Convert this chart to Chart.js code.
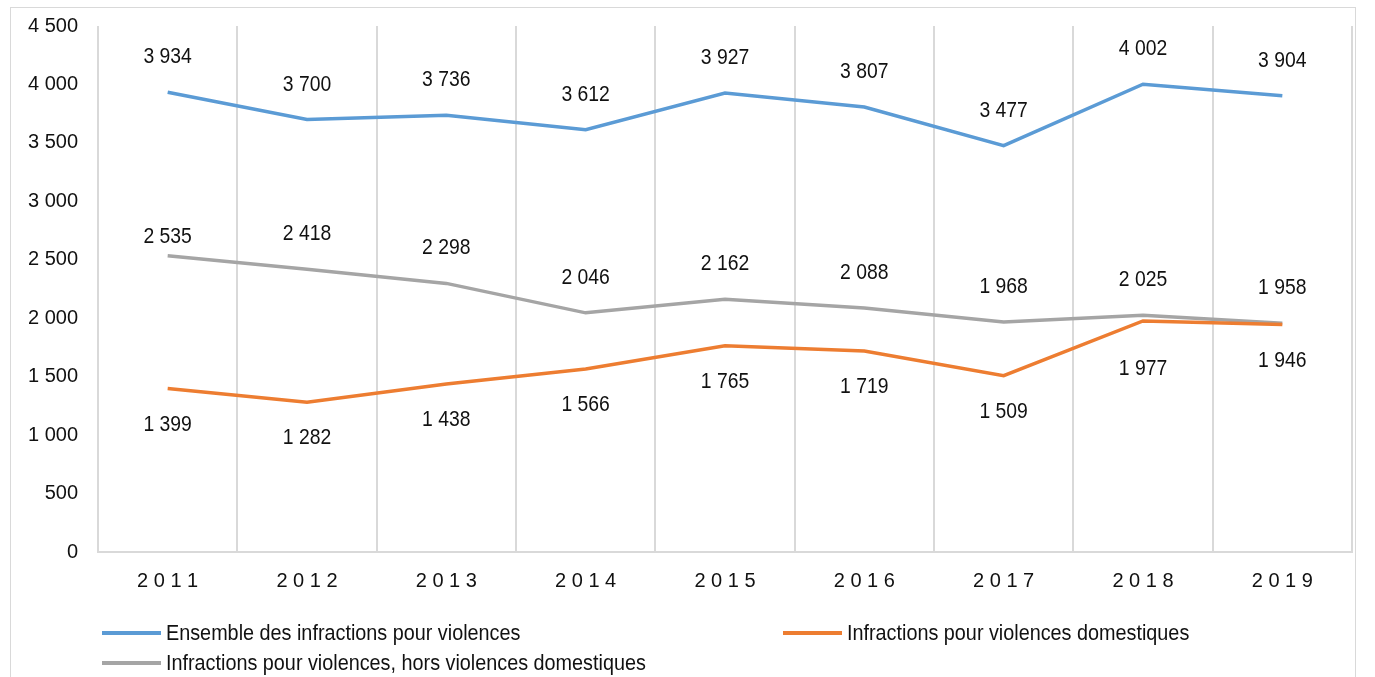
<!DOCTYPE html>
<html>
<head>
<meta charset="utf-8">
<script src="https://cdn.jsdelivr.net/npm/chart.js@4/dist/chart.umd.min.js"></script>
<style>
  html, body { margin: 0; padding: 0; background: #fff; }
  #wrap { width: 1375px; height: 677px; position: relative; }
</style>
</head>
<body>
<div id="wrap"><canvas id="chart" width="1375" height="677"></canvas></div>
<script>
const years = ['2011', '2012', '2013', '2014', '2015', '2016', '2017', '2018', '2019'];
const ensemble = [3934, 3700, 3736, 3612, 3927, 3807, 3477, 4002, 3904];
const domestiques = [1399, 1282, 1438, 1566, 1765, 1719, 1509, 1977, 1946];
const horsDomestiques = [2535, 2418, 2298, 2046, 2162, 2088, 1968, 2025, 1958];

const seriesNames = [
    'Ensemble des infractions pour violences',
    'Infractions pour violences domestiques',
    'Infractions pour violences, hors violences domestiques'
];
const colors = ['#5B9BD5', '#ED7D31', '#A5A5A5'];

const FONT = '"Liberation Sans", Arial, sans-serif';

// thousands with a plain space, like "3 934"
function fmt(v) {
    return String(v).replace(/\B(?=(\d{3})+(?!\d))/g, ' ');
}

// the original text is a bit condensed: draw tall and squeeze horizontally
function narrowText(ctx, txt, x, y, sx) {
    ctx.save();
    ctx.translate(x, y);
    ctx.scale(sx, 1);
    ctx.fillText(txt, 0, 0);
    ctx.restore();
}

// value labels above or below each point
const valueLabels = {
    id: 'valueLabels',
    afterDatasetsDraw(chart) {
        const ctx = chart.ctx;
        ctx.save();
        ctx.font = '22px ' + FONT;
        ctx.fillStyle = '#111';
        ctx.textAlign = 'center';
        ctx.textBaseline = 'middle';
        chart.data.datasets.forEach((ds, i) => {
            const meta = chart.getDatasetMeta(i);
            const below = ds.labelBelow;
            meta.data.forEach((pt, j) => {
                let off = below ? 36 : -35;
                if (i === 2 && j === 0) off = -19;
                if (i === 1 && j === 7) off = 48;
                narrowText(ctx, fmt(ds.data[j]), pt.x, pt.y + off, 0.88);
            });
        });
        ctx.restore();
    }
};

// frame + custom legend laid out like the original
const frameLegend = {
    id: 'frameLegend',
    beforeDraw(chart) {
        const ctx = chart.ctx;
        ctx.save();
        ctx.strokeStyle = '#D9D9D9';
        ctx.lineWidth = 1;
        ctx.strokeRect(10.5, 7.5, 1345, 700);
        ctx.restore();
    },
    afterDraw(chart) {
        const ctx = chart.ctx;
        const spots = [[102, 633], [783, 633], [102, 663]];
        ctx.save();
        ctx.font = '22px ' + FONT;
        ctx.textBaseline = 'middle';
        spots.forEach((p, i) => {
            ctx.strokeStyle = colors[i];
            ctx.lineWidth = 4;
            ctx.beginPath();
            ctx.moveTo(p[0], p[1]);
            ctx.lineTo(p[0] + 59, p[1]);
            ctx.stroke();
            ctx.fillStyle = '#111';
            narrowText(ctx, seriesNames[i], p[0] + 64, p[1] + 1, 0.9);
        });
        ctx.restore();
    }
};

const config = {
    type: 'line',
    data: {
        labels: years,
        datasets: [
            { label: seriesNames[0], data: ensemble, borderColor: colors[0], labelBelow: false },
            { label: seriesNames[1], data: domestiques, borderColor: colors[1], labelBelow: true },
            { label: seriesNames[2], data: horsDomestiques, borderColor: colors[2], labelBelow: false }
        ].map(d => Object.assign(d, {
            borderWidth: 3.5,
            pointRadius: 0,
            tension: 0,
            fill: false
        }))
    },
    options: {
        responsive: false,
        animation: false,
        layout: { padding: { top: 26, right: 23, left: 10, bottom: 0 } },
        plugins: {
            legend: { display: false },
            tooltip: { enabled: false }
        },
        scales: {
            x: {
                offset: true,
                grid: { offset: true, color: '#D9D9D9', lineWidth: 2, drawTicks: false },
                border: { color: '#D9D9D9', width: 2 },
                ticks: {
                    color: '#111',
                    font: { family: FONT, size: 20 },
                    padding: 17,
                    callback: function(v) { return this.getLabelForValue(v).split('').join(' '); }
                },
                afterFit(s) { s.height = 125; }
            },
            y: {
                min: 0,
                max: 4500,
                grid: { display: false, drawTicks: false },
                border: { display: false },
                ticks: {
                    stepSize: 500,
                    color: '#111',
                    font: { family: FONT, size: 20 },
                    padding: 20,
                    callback: v => fmt(v)
                },
                afterFit(s) {
                    s.width = 88;
                    s.paddingTop = 0;
                    s.paddingBottom = 0;
                }
            }
        }
    },
    plugins: [valueLabels, frameLegend]
};

window.myChart = new Chart(document.getElementById('chart'), config);
</script>
</body>
</html>
